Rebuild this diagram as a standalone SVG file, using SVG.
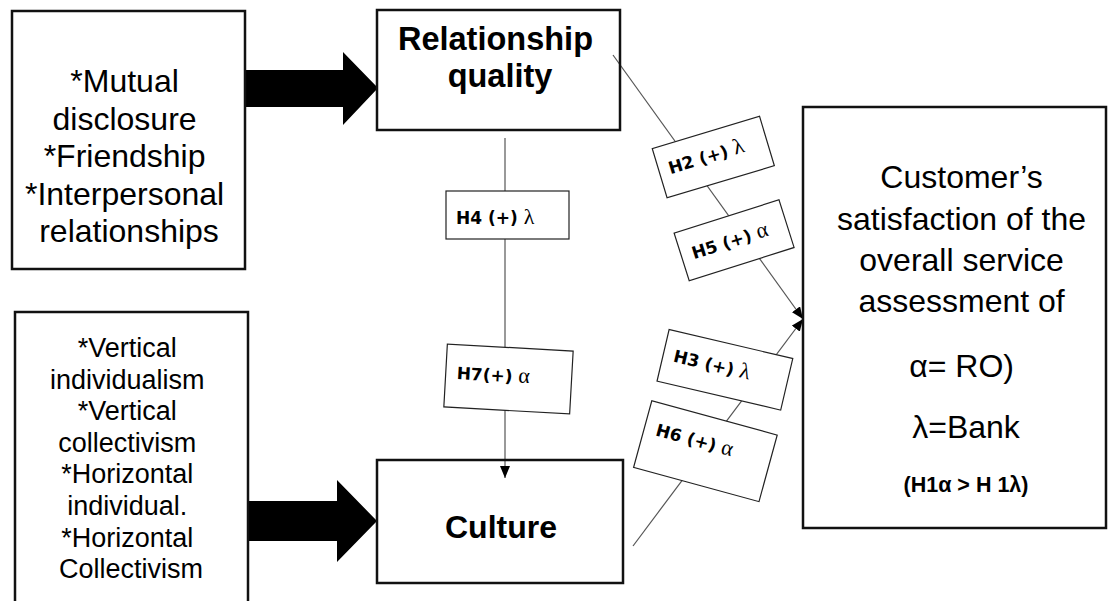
<svg xmlns="http://www.w3.org/2000/svg" width="1109" height="601" viewBox="0 0 1109 601">
<defs>
<style>
.box{fill:none;stroke:#111;stroke-width:2.5}
.hbox{fill:#fff;stroke:#222;stroke-width:1.2}
.conn{stroke:#555;stroke-width:1.2;fill:none}
.big{fill:#000}
.t{font-family:"Liberation Sans",Arial,sans-serif;fill:#000;text-anchor:middle}
.tb{font-family:"Liberation Sans",Arial,sans-serif;font-weight:bold;fill:#000;text-anchor:middle}
.h{font-family:"DejaVu Sans",Verdana,sans-serif;font-weight:bold;font-size:17px;fill:#000}
.g{font-family:"Liberation Serif","Times New Roman",serif;font-weight:normal;font-size:22px}
</style>
<marker id="ah" viewBox="0 0 12 10" refX="12" refY="5" markerWidth="12" markerHeight="10" markerUnits="userSpaceOnUse" orient="auto">
<path d="M0,0 L12,5 L0,10 z" fill="#000"/>
</marker>
</defs>
<rect width="1109" height="601" fill="#fff"/>

<g id="connectors">
<polygon class="big" points="245,70 343,70 343,52 378,88 343,125 343,107 245,107"/>
<polygon class="big" points="247,501 337,501 337,480 377,521 337,562 337,541 247,541"/>
<line class="conn" x1="505" y1="138" x2="505" y2="478" marker-end="url(#ah)"/>
<line class="conn" x1="613" y1="55" x2="803" y2="319" marker-end="url(#ah)"/>
<line class="conn" x1="633" y1="546" x2="803" y2="319" marker-end="url(#ah)"/>
</g>

<g id="antecedents1">
<rect class="box" x="12" y="11" width="233" height="258"/>
<text class="t" font-size="32">
<tspan x="129" y="92">*Mutual</tspan>
<tspan x="129" y="129.5">disclosure</tspan>
<tspan x="129" y="167">*Friendship</tspan>
<tspan x="129" y="204.5">*Interpersonal</tspan>
<tspan x="129" y="242">relationships</tspan>
</text>
</g>

<g id="antecedents2">
<rect class="box" x="15" y="312" width="233" height="300"/>
<text class="t" font-size="27">
<tspan x="131" y="357">*Vertical</tspan>
<tspan x="131" y="388.6">individualism</tspan>
<tspan x="131" y="420.2">*Vertical</tspan>
<tspan x="131" y="451.8">collectivism</tspan>
<tspan x="131" y="483.4">*Horizontal</tspan>
<tspan x="131" y="515">individual.</tspan>
<tspan x="131" y="546.6">*Horizontal</tspan>
<tspan x="131" y="578.2">Collectivism</tspan>
</text>
</g>

<g id="relationship-quality">
<rect class="box" x="377" y="10" width="243" height="120"/>
<text class="tb" font-size="32.5">
<tspan x="500" y="50">Relationship</tspan>
<tspan x="500" y="87">quality</tspan>
</text>
</g>

<g id="culture">
<rect class="box" x="377" y="460" width="246" height="123"/>
<text class="tb" font-size="32" x="501" y="538">Culture</text>
</g>

<g id="satisfaction">
<rect class="box" x="803" y="107" width="303" height="421"/>
<text class="t" font-size="32">
<tspan x="966" y="188">Customer’s</tspan>
<tspan x="966" y="230">satisfaction of the</tspan>
<tspan x="966" y="271">overall service</tspan>
<tspan x="966" y="312">assessment of</tspan>
<tspan x="966" y="377">α= RO)</tspan>
<tspan x="966" y="438">λ=Bank</tspan>
</text>
<text class="tb" font-size="21.5" x="966" y="492">(H1α &gt; H 1λ)</text>
</g>

<g id="h4">
<rect class="hbox" x="446" y="191" width="123" height="48"/>
<text class="h" x="456" y="224">H4 (+) <tspan class="g">λ</tspan></text>
</g>

<g id="h7" transform="translate(508.5,379) rotate(3.2)">
<rect class="hbox" x="-63" y="-31.5" width="126" height="63"/>
<text class="h" x="-52" y="3">H7(+) <tspan class="g">α</tspan></text>
</g>

<g id="h2" transform="translate(713.3,157.1) rotate(-16.7)">
<rect class="hbox" x="-56" y="-25.75" width="112" height="51.5"/>
<text class="h" x="-46" y="4">H2 (+) <tspan class="g">λ</tspan></text>
</g>

<g id="h5" transform="translate(734.1,240.3) rotate(-17.6)">
<rect class="hbox" x="-55" y="-25" width="110" height="50"/>
<text class="h" x="-44" y="6">H5 (+) <tspan class="g">α</tspan></text>
</g>

<g id="h3" transform="translate(724.9,369.8) rotate(13.2)">
<rect class="hbox" x="-63.5" y="-26.5" width="127" height="53"/>
<text class="h" x="-53" y="4">H3 (+) <tspan class="g">λ</tspan></text>
</g>

<g id="h6" transform="translate(705.4,451.2) rotate(15.3)">
<rect class="hbox" x="-65" y="-34.5" width="130" height="69"/>
<text class="h" x="-53" y="-2">H6 (+) <tspan class="g">α</tspan></text>
</g>
</svg>
